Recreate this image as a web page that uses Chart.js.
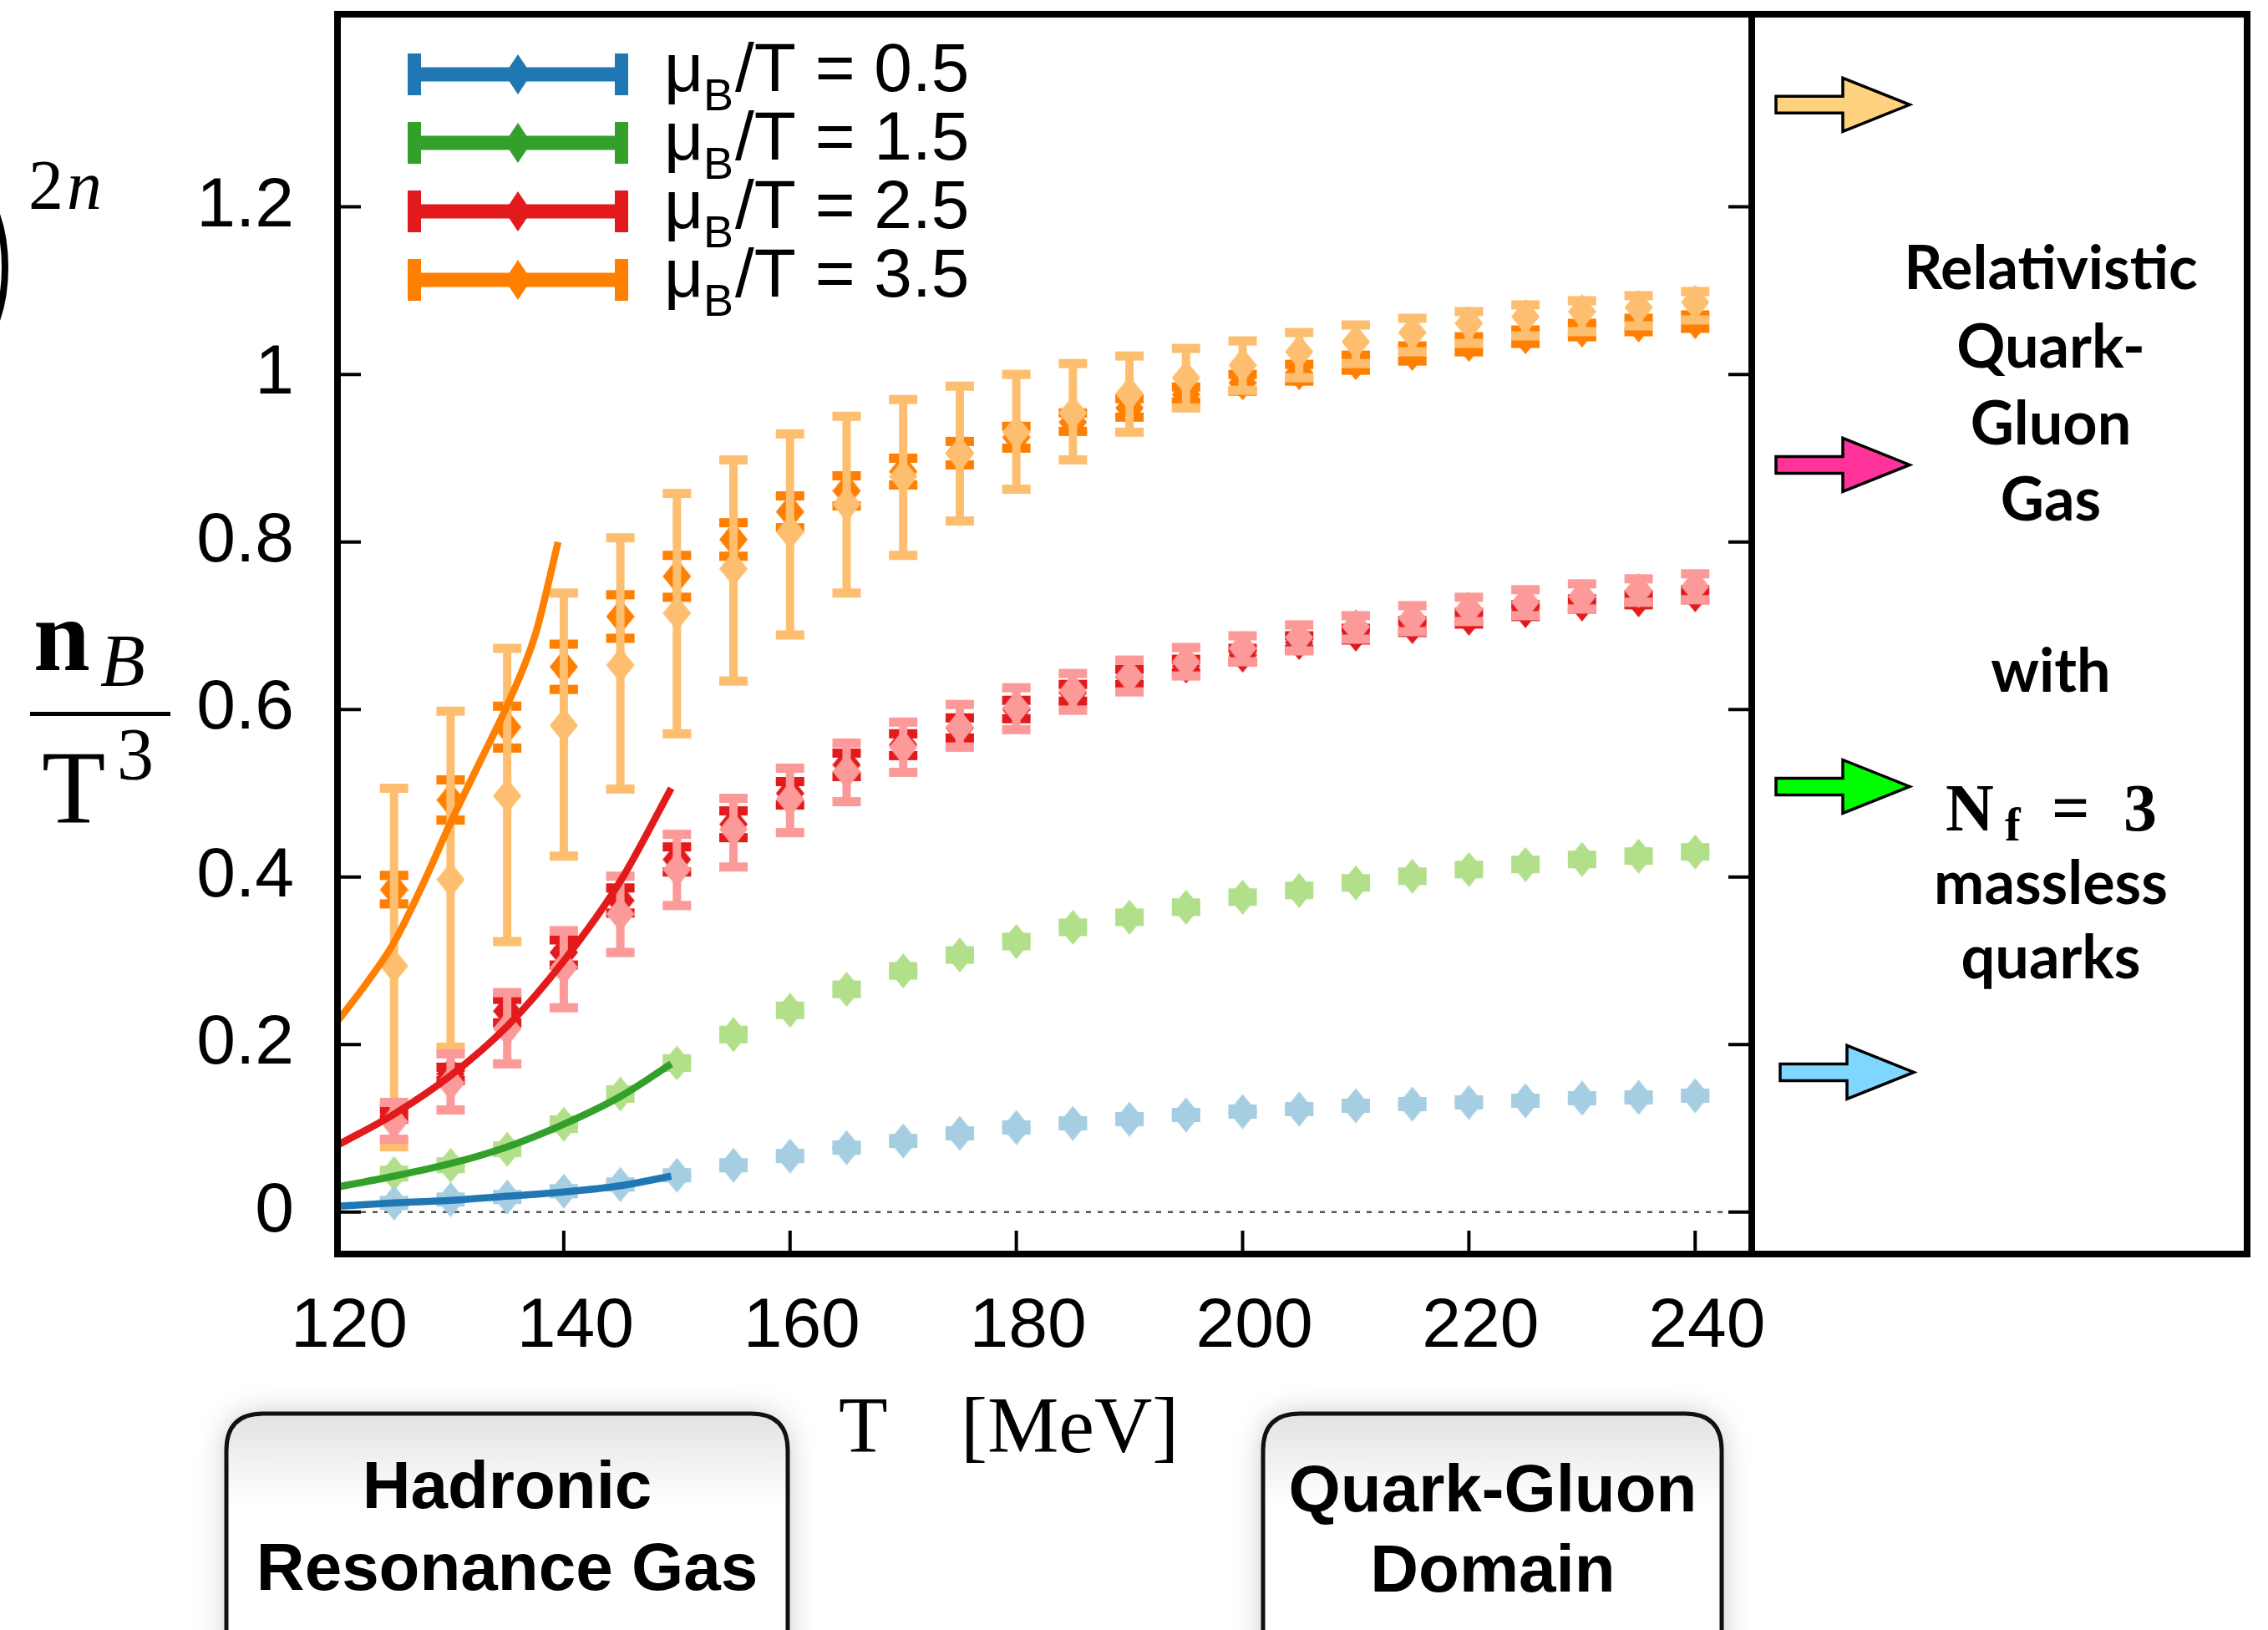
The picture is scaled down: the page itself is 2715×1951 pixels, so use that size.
<!DOCTYPE html>
<html>
<head>
<meta charset="utf-8">
<script src="https://cdn.jsdelivr.net/npm/chart.js@4.4.1/dist/chart.umd.min.js"></script>
<style>
	html, body { margin: 0; padding: 0; background: #fff; }
	#wrap { width: 2715px; height: 1951px; }
</style>
</head>
<body>
<div id="wrap"><canvas id="chart" width="2715" height="1951"></canvas></div>
<script>
// lattice points, T in MeV
const temperatures = [125, 130, 135, 140, 145, 150, 155, 160, 165, 170, 175, 180, 185, 190, 195, 200, 205, 210, 215, 220, 225, 230, 235, 240];

const lightOrange = [0.294, 0.397, 0.497, 0.581, 0.653, 0.715, 0.768, 0.812, 0.845, 0.878, 0.905, 0.931, 0.954, 0.977, 0.996, 1.011, 1.027, 1.039, 1.050, 1.061, 1.069, 1.075, 1.080, 1.086];
const lightOrangeHi = [0.506, 0.598, 0.673, 0.739, 0.805, 0.858, 0.898, 0.929, 0.950, 0.970, 0.986, 1.000, 1.013, 1.022, 1.031, 1.040, 1.050, 1.059, 1.067, 1.075, 1.083, 1.088, 1.094, 1.099];
const lightOrangeLo = [0.078, 0.197, 0.323, 0.425, 0.505, 0.571, 0.634, 0.689, 0.739, 0.784, 0.825, 0.863, 0.898, 0.931, 0.960, 0.981, 0.996, 1.013, 1.027, 1.037, 1.046, 1.051, 1.058, 1.065];
const darkOrange = [0.385, 0.492, 0.579, 0.651, 0.711, 0.759, 0.803, 0.836, 0.861, 0.884, 0.906, 0.925, 0.943, 0.960, 0.976, 0.990, 1.002, 1.014, 1.025, 1.036, 1.045, 1.053, 1.059, 1.063];
const darkOrangeErr = [0.017, 0.024, 0.025, 0.027, 0.026, 0.025, 0.020, 0.019, 0.018, 0.016, 0.014, 0.013, 0.011, 0.011, 0.009, 0.010, 0.010, 0.009, 0.009, 0.009, 0.008, 0.008, 0.008, 0.008];

const lightRed = [0.108, 0.154, 0.219, 0.292, 0.356, 0.409, 0.457, 0.493, 0.526, 0.555, 0.579, 0.602, 0.622, 0.640, 0.657, 0.673, 0.686, 0.699, 0.709, 0.720, 0.728, 0.735, 0.742, 0.747];
const lightRedHi = [0.131, 0.189, 0.262, 0.336, 0.401, 0.451, 0.494, 0.530, 0.560, 0.585, 0.606, 0.626, 0.643, 0.659, 0.674, 0.688, 0.701, 0.712, 0.724, 0.734, 0.743, 0.750, 0.756, 0.762];
const lightRedLo = [0.087, 0.122, 0.177, 0.244, 0.310, 0.366, 0.412, 0.453, 0.490, 0.525, 0.555, 0.576, 0.599, 0.621, 0.640, 0.657, 0.670, 0.684, 0.693, 0.705, 0.712, 0.720, 0.728, 0.731];
const darkRed = [0.117, 0.165, 0.240, 0.310, 0.372, 0.421, 0.463, 0.500, 0.534, 0.558, 0.578, 0.600, 0.620, 0.639, 0.652, 0.665, 0.680, 0.690, 0.699, 0.709, 0.718, 0.726, 0.731, 0.737];
const darkRedErr = [0.006, 0.008, 0.014, 0.015, 0.015, 0.015, 0.016, 0.014, 0.014, 0.013, 0.012, 0.011, 0.010, 0.009, 0.008, 0.008, 0.008, 0.007, 0.007, 0.007, 0.007, 0.006, 0.006, 0.006];

const lightGreen = [0.046, 0.056, 0.075, 0.105, 0.141, 0.178, 0.212, 0.241, 0.266, 0.288, 0.307, 0.323, 0.340, 0.352, 0.364, 0.376, 0.384, 0.393, 0.401, 0.409, 0.415, 0.421, 0.425, 0.430];
const lightGreenErr = [0.004, 0.004, 0.004, 0.005, 0.005, 0.005, 0.005, 0.005, 0.005, 0.005, 0.005, 0.005, 0.005, 0.005, 0.005, 0.005, 0.005, 0.005, 0.005, 0.005, 0.005, 0.005, 0.005, 0.005];

const lightBlue = [0.011, 0.015, 0.018, 0.025, 0.033, 0.044, 0.056, 0.067, 0.077, 0.085, 0.094, 0.101, 0.106, 0.111, 0.116, 0.120, 0.123, 0.127, 0.129, 0.131, 0.133, 0.136, 0.137, 0.139];
const lightBlueErr = [0.003, 0.003, 0.003, 0.003, 0.003, 0.003, 0.003, 0.003, 0.003, 0.003, 0.003, 0.003, 0.003, 0.003, 0.003, 0.003, 0.003, 0.003, 0.003, 0.003, 0.003, 0.003, 0.003, 0.003];

// HRG curves
const hrgTempsOrange = [120, 122.5, 125, 127.5, 130, 132.5, 135, 137.5, 139.5];
const hrgOrange = [0.228, 0.272, 0.322, 0.390, 0.465, 0.535, 0.605, 0.690, 0.800];
const hrgTemps = [120, 125, 130, 135, 140, 145, 149.5];
const hrgRed = [0.080, 0.117, 0.163, 0.222, 0.300, 0.395, 0.506];
const hrgGreen = [0.030, 0.043, 0.058, 0.078, 0.105, 0.138, 0.177];
const hrgBlue = [0.007, 0.011, 0.014, 0.019, 0.024, 0.0315, 0.043];

// Stefan-Boltzmann limits (arrows), top to bottom
const sbLimits = [1.322, 0.892, 0.508, 0.167];
const arrowColors = ['#ffd27f', '#ff3399', '#00ff00', '#7fd6ff'];

const muLabels = ['0.5', '1.5', '2.5', '3.5'];
const xTickValues = [120, 140, 160, 180, 200, 220, 240];
const yTickValues = [0, 0.2, 0.4, 0.6, 0.8, 1.0, 1.2];

const dark = { blue: '#1f78b4', green: '#33a02c', red: '#e31a1c', orange: '#ff7f00' };
const light = { blue: '#a6cee3', green: '#b2df8a', red: '#fb9a99', orange: '#fdbf6f' };

const makeDiamond = (color, w, h) => {
	const c = document.createElement('canvas');
	c.width = w;
	c.height = h;
	const g = c.getContext('2d');
	g.fillStyle = color;
	g.beginPath();
	g.moveTo(w / 2, 0);
	g.lineTo(w, h / 2);
	g.lineTo(w / 2, h);
	g.lineTo(0, h / 2);
	g.closePath();
	g.fill();
	return c;
};

const toXY = (xs, ys) => xs.map((x, i) => ({ x, y: ys[i] }));

const curve = (temps, vals, color) => ({
	data: toXY(temps, vals),
	showLine: true,
	borderColor: color,
	borderWidth: 8.5,
	pointRadius: 0,
	cubicInterpolationMode: 'monotone',
	fill: false,
	order: 0
});

const points = (vals, lo, hi, color, order) => ({
	data: toXY(temperatures, vals),
	showLine: false,
	pointStyle: makeDiamond(color, 34, 42),
	pointRadius: 18,
	backgroundColor: color,
	borderColor: color,
	borderWidth: 0,
	errLo: lo,
	errHi: hi,
	order
});

const withErr = (vals, err, sign) => vals.map((v, i) => v + sign * err[i]);

const datasets = [
	curve(hrgTempsOrange, hrgOrange, dark.orange),
	curve(hrgTemps, hrgRed, dark.red),
	curve(hrgTemps, hrgGreen, dark.green),
	curve(hrgTemps, hrgBlue, dark.blue),
	points(lightBlue, withErr(lightBlue, lightBlueErr, -1), withErr(lightBlue, lightBlueErr, 1), light.blue, 1),
	points(lightGreen, withErr(lightGreen, lightGreenErr, -1), withErr(lightGreen, lightGreenErr, 1), light.green, 1),
	points(lightRed, lightRedLo, lightRedHi, light.red, 1),
	points(lightOrange, lightOrangeLo, lightOrangeHi, light.orange, 1),
	points(darkRed, withErr(darkRed, darkRedErr, -1), withErr(darkRed, darkRedErr, 1), dark.red, 2),
	points(darkOrange, withErr(darkOrange, darkOrangeErr, -1), withErr(darkOrange, darkOrangeErr, 1), dark.orange, 2)
];

const errorBarPlugin = {
	id: 'errorBars',
	beforeDatasetDraw(chart, args) {
		const ds = chart.data.datasets[args.index];
		if (!ds.errLo) return;
		const { ctx, chartArea: a, scales: { y } } = chart;
		ctx.save();
		ctx.beginPath();
		ctx.rect(a.left, a.top, a.right - a.left, a.bottom - a.top);
		ctx.clip();
		ctx.fillStyle = ds.backgroundColor;
		args.meta.data.forEach((pt, i) => {
			const top = y.getPixelForValue(ds.errHi[i]);
			const bot = y.getPixelForValue(ds.errLo[i]);
			ctx.fillRect(pt.x - 5, top, 10, bot - top);
			ctx.fillRect(pt.x - 17, top - 5.5, 34, 11);
			ctx.fillRect(pt.x - 17, bot - 5.5, 34, 11);
		});
		ctx.restore();
	}
};

const framePlugin = {
	id: 'frame',
	beforeDatasetsDraw(chart) {
		const { ctx, chartArea: a, scales: { y } } = chart;
		const py = y.getPixelForValue(0);
		ctx.save();
		ctx.strokeStyle = '#555';
		ctx.lineWidth = 2.5;
		ctx.setLineDash([6, 8]);
		ctx.beginPath();
		ctx.moveTo(a.left, py);
		ctx.lineTo(a.right, py);
		ctx.stroke();
		ctx.restore();
	},
	afterDatasetsDraw(chart) {
		const { ctx, chartArea: a, scales: { x, y } } = chart;
		ctx.save();
		ctx.strokeStyle = '#000';
		ctx.lineWidth = 4;
		ctx.beginPath();
		yTickValues.forEach(v => {
			const py = y.getPixelForValue(v);
			ctx.moveTo(a.left, py);
			ctx.lineTo(a.left + 28, py);
			ctx.moveTo(a.right - 28, py);
			ctx.lineTo(a.right, py);
		});
		xTickValues.forEach(v => {
			const px = x.getPixelForValue(v);
			ctx.moveTo(px, a.bottom);
			ctx.lineTo(px, a.bottom - 28);
		});
		ctx.stroke();
		ctx.lineWidth = 8;
		ctx.strokeRect(a.left, a.top, a.right - a.left, a.bottom - a.top);
		ctx.strokeRect(a.right, a.top, 2690 - a.right, a.bottom - a.top);
		ctx.restore();
	}
};

const legendDiamonds = [dark.blue, dark.green, dark.red, dark.orange].map(c => makeDiamond(c, 32, 48));

const roundedBox = (ctx, x, y, w, h, r) => {
	ctx.beginPath();
	ctx.moveTo(x + r, y);
	ctx.lineTo(x + w - r, y);
	ctx.quadraticCurveTo(x + w, y, x + w, y + r);
	ctx.lineTo(x + w, y + h - r);
	ctx.quadraticCurveTo(x + w, y + h, x + w - r, y + h);
	ctx.lineTo(x + r, y + h);
	ctx.quadraticCurveTo(x, y + h, x, y + h - r);
	ctx.lineTo(x, y + r);
	ctx.quadraticCurveTo(x, y, x + r, y);
	ctx.closePath();
};

const drawBox = (ctx, x, y, w, h, lines, cx) => {
	ctx.save();
	roundedBox(ctx, x, y, w, h, 44);
	ctx.shadowColor = 'rgba(0,0,0,0.22)';
	ctx.shadowBlur = 36;
	ctx.fillStyle = '#fff';
	ctx.fill();
	ctx.shadowColor = 'transparent';
	const grad = ctx.createLinearGradient(0, y, 0, y + 110);
	grad.addColorStop(0, '#e2e2e2');
	grad.addColorStop(1, '#ffffff');
	ctx.fillStyle = grad;
	ctx.fill();
	ctx.lineWidth = 5;
	ctx.strokeStyle = '#111';
	ctx.stroke();
	ctx.fillStyle = '#000';
	ctx.font = 'bold 80px "Liberation Sans"';
	ctx.textAlign = 'center';
	lines.forEach(([t, by]) => ctx.fillText(t, cx, by));
	ctx.restore();
};

const annotationPlugin = {
	id: 'annotations',
	afterDraw(chart) {
		const { ctx, scales: { y } } = chart;
		ctx.save();
		ctx.textAlign = 'left';
		ctx.textBaseline = 'alphabetic';

		// legend
		const rows = [89, 171, 253, 335];
		const legendColors = [dark.blue, dark.green, dark.red, dark.orange];
		rows.forEach((ry, i) => {
			ctx.fillStyle = legendColors[i];
			ctx.fillRect(496, ry - 8.5, 248, 17);
			ctx.fillRect(488, ry - 25, 16, 50);
			ctx.fillRect(736, ry - 25, 16, 50);
			ctx.drawImage(legendDiamonds[i], 604, ry - 24);
			ctx.fillStyle = '#000';
			const base = ry + 20;
			ctx.font = '82px "Liberation Sans"';
			ctx.fillText('\u03bc', 795, base);
			ctx.font = '54px "Liberation Sans"';
			ctx.fillText('B', 842, base + 23);
			ctx.font = '82px "Liberation Sans"';
			ctx.fillText('/T = ' + muLabels[i], 880, base);
		});

		// y-axis label: n_B / T^3
		ctx.fillStyle = '#000';
		ctx.font = 'bold 122px "Liberation Serif"';
		ctx.fillText('n', 40, 802);
		ctx.font = 'italic 88px "Liberation Serif"';
		ctx.fillText('B', 120, 820);
		ctx.fillRect(36, 852, 168, 5);
		ctx.font = '125px "Liberation Serif"';
		ctx.fillText('T', 50, 985);
		ctx.font = '88px "Liberation Serif"';
		ctx.fillText('3', 140, 932);

		// leftover of the cropped prefactor
		ctx.font = '84px "Liberation Serif"';
		ctx.fillText('2', 34, 250);
		ctx.font = 'italic 84px "Liberation Serif"';
		ctx.fillText('n', 80, 250);
		ctx.lineWidth = 8;
		ctx.strokeStyle = '#000';
		ctx.beginPath();
		ctx.ellipse(-54, 320, 60, 114, 0, -Math.PI / 2, Math.PI / 2);
		ctx.stroke();

		// x-axis title
		ctx.font = '96px "Liberation Serif"';
		ctx.fillText('T', 1004, 1738);
		ctx.fillText('[MeV]', 1150, 1738);

		// Stefan-Boltzmann arrows
		sbLimits.forEach((v, i) => {
			const py = y.getPixelForValue(v);
			const dx = i === 3 ? 5 : 0;
			ctx.beginPath();
			ctx.moveTo(2126 + dx, py - 10);
			ctx.lineTo(2206 + dx, py - 10);
			ctx.lineTo(2206 + dx, py - 32);
			ctx.lineTo(2286 + dx, py);
			ctx.lineTo(2206 + dx, py + 32);
			ctx.lineTo(2206 + dx, py + 10);
			ctx.lineTo(2126 + dx, py + 10);
			ctx.closePath();
			ctx.fillStyle = arrowColors[i];
			ctx.fill();
			ctx.lineWidth = 3.5;
			ctx.strokeStyle = '#000';
			ctx.stroke();
		});

		// right panel text
		ctx.fillStyle = '#000';
		ctx.textAlign = 'center';
		ctx.font = 'bold 72px Lato';
		[['Relativistic', 346], ['Quark-', 440], ['Gluon', 532], ['Gas', 623], ['with', 828], ['massless', 1082], ['quarks', 1171]]
			.forEach(([t, by]) => ctx.fillText(t, 2455, by));
		ctx.textAlign = 'left';
		ctx.font = 'bold 80px "Liberation Serif"';
		ctx.fillText('N', 2329, 994);
		ctx.fillText('=', 2456, 994);
		ctx.fillText('3', 2542, 994);
		ctx.font = 'bold 56px "Liberation Serif"';
		ctx.fillText('f', 2400, 1006);

		// phase boxes
		drawBox(ctx, 271, 1692, 672, 330, [['Hadronic', 1805], ['Resonance Gas', 1903]], 607);
		drawBox(ctx, 1512, 1692, 549, 330, [['Quark-Gluon', 1809], ['Domain', 1905]], 1787);
		ctx.restore();
	}
};

new Chart(document.getElementById('chart'), {
	type: 'scatter',
	data: { datasets },
	options: {
		responsive: false,
		devicePixelRatio: 1,
		animation: false,
		layout: { autoPadding: false, padding: { left: 0, top: 17, right: 618, bottom: 0 } },
		plugins: { legend: { display: false }, tooltip: { enabled: false } },
		scales: {
			x: {
				type: 'linear',
				min: 120,
				max: 245,
				afterBuildTicks: s => { s.ticks = xTickValues.map(v => ({ value: v })); },
				afterFit: s => {
					s.height = 450;
					s.paddingLeft = 0;
					s.paddingRight = 0;
				},
				grid: { display: false, drawTicks: false },
				border: { display: false },
				ticks: {
					color: '#000',
					font: { family: 'Liberation Sans', size: 84 },
					padding: 37,
					labelOffset: 14,
					maxRotation: 0,
					autoSkip: false
				}
			},
			y: {
				type: 'linear',
				min: -0.05,
				max: 1.43,
				afterBuildTicks: s => { s.ticks = yTickValues.map(v => ({ value: v })); },
				afterFit: s => {
					s.width = 404;
					s.paddingTop = 0;
					s.paddingBottom = 0;
				},
				grid: { display: false, drawTicks: false },
				border: { display: false },
				ticks: {
					color: '#000',
					font: { family: 'Liberation Sans', size: 84 },
					padding: 52,
					callback: v => String(Math.round(v * 10) / 10)
				}
			}
		}
	},
	plugins: [errorBarPlugin, framePlugin, annotationPlugin]
});
</script>
</body>
</html>
